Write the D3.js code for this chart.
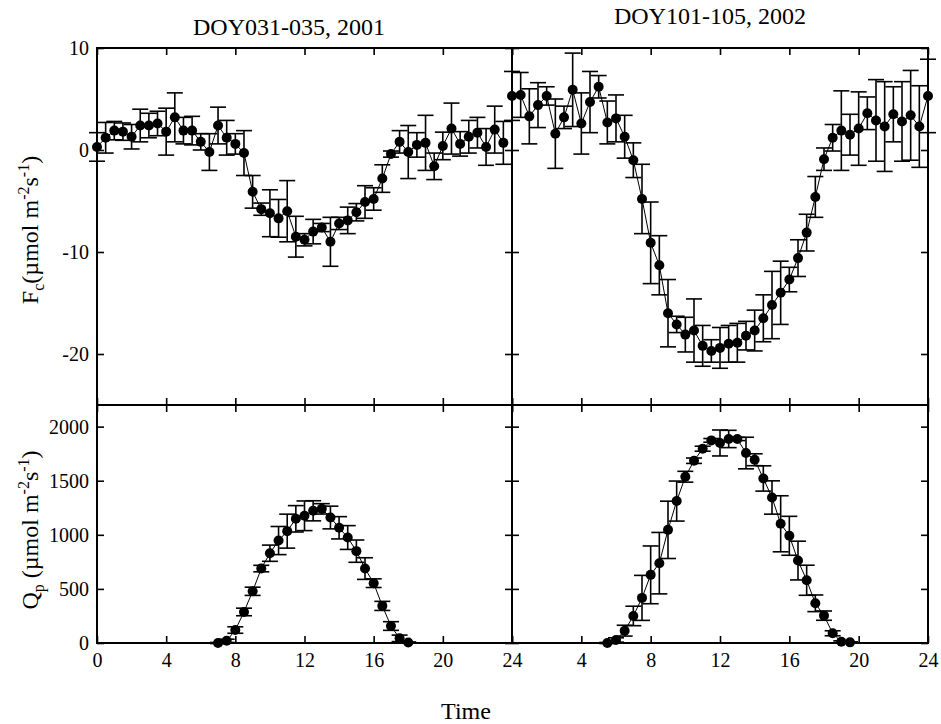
<!DOCTYPE html>
<html><head><meta charset="utf-8">
<script src="https://cdn.jsdelivr.net/npm/d3@7"></script>
<style>body{margin:0;background:#fff}svg{display:block}</style>
</head><body>
<svg id="c" width="941" height="724"></svg>
<script>
// ---------- data ----------
const titles = ["DOY031-035, 2001", "DOY101-105, 2002"];
const xTicks = [0, 4, 8, 12, 16, 20, 24];
const fcTicks = [10, 0, -10, -20];
const qpTicks = [0, 500, 1000, 1500, 2000];

const timeA = [0,0.5,1,1.5,2,2.5,3,3.5,4,4.5,5,5.5,6,6.5,7,7.5,8,8.5,9,9.5,10,10.5,11,11.5,12,12.5,13,13.5,14,14.5,15,15.5,16,16.5,17,17.5,18,18.5,19,19.5,20,20.5,21,21.5,22,22.5,23,23.5];
const fcA = [0.3,1.2,1.9,1.8,1.3,2.4,2.4,2.6,1.8,3.2,
             1.9,1.9,0.8,-0.2,2.4,1.2,0.6,-0.3,-4.1,-5.8,
             -6.2,-6.7,-6.0,-8.5,-8.8,-8.0,-7.6,-9.0,-7.2,-6.9,
             -6.1,-5.1,-4.8,-2.8,-0.4,0.8,-0.2,0.5,0.7,-1.6,
             0.4,2.1,0.6,1.3,1.7,0.3,2.0,0.7];
const fcAErr = [1.4,1.5,0.9,0.85,1.2,1.6,1.2,1.2,2.3,2.4,
                1.3,1.4,0.8,1.8,1.8,1.7,1.0,2.2,1.6,0.6,
                2.3,1.85,3.0,2.0,0.6,1.2,0.4,2.4,0.6,1.3,
                0.85,1.6,1.1,1.35,0.3,1.1,2.6,1.2,2.7,1.3,
                1.35,2.5,1.2,1.6,1.5,1.8,2.3,2.1];

const timeB = [0,0.5,1,1.5,2,2.5,3,3.5,4,4.5,5,5.5,6,6.5,7,7.5,8,8.5,9,9.5,10,10.5,11,11.5,12,12.5,13,13.5,14,14.5,15,15.5,16,16.5,17,17.5,18,18.5,19,19.5,20,20.5,21,21.5,22,22.5,23,23.5,24];
const fcB = [5.3,5.4,3.3,4.4,5.3,1.6,3.2,5.9,2.6,4.7,
             6.2,2.7,3.1,1.3,-1.0,-4.8,-9.1,-11.3,-16.0,-17.1,
             -18.1,-17.7,-19.2,-19.7,-19.4,-19.0,-18.9,-18.2,-17.7,-16.5,
             -15.2,-14.0,-12.7,-10.6,-8.1,-4.6,-0.9,1.2,1.9,1.5,
             2.1,3.6,2.9,2.3,3.5,2.8,3.4,2.3,5.3];
const fcBErr = [2.4,2.2,2.7,2.2,0.9,3.4,1.1,3.6,3.0,3.0,
                1.1,2.1,2.3,2.1,1.7,3.4,4.0,2.9,3.3,0.8,
                1.7,3.1,2.0,1.1,2.0,1.8,1.9,1.4,2.0,2.3,
                3.3,3.1,1.2,1.8,1.8,2.0,1.1,1.3,3.9,2.0,
                3.6,1.6,4.0,4.4,2.7,3.9,4.4,4.0,3.6];

const qpTimeA = [7,7.5,8,8.5,9,9.5,10,10.5,11,11.5,12,12.5,13,13.5,14,14.5,15,15.5,16,16.5,17,17.5,18];
const qpA = [0,20,120,287,478,688,830,947,1034,1148,1176,1222,1240,1160,1065,975,849,688,553,343,157,43,5];
const qpAErr = [5,15,30,35,38,30,75,130,157,122,137,93,48,105,103,110,103,100,40,42,40,30,5];

const qpTimeB = [5.5,6,6.5,7,7.5,8,8.5,9,9.5,10,10.5,11,11.5,12,12.5,13,13.5,14,14.5,15,15.5,16,16.5,17,17.5,18,18.5,19,19.5];
const qpB = [0,28,114,250,417,630,738,1046,1312,1537,1685,1796,1873,1849,1886,1886,1756,1694,1521,1345,1102,991,762,580,367,253,90,12,6];
const qpBErr = [5,20,50,90,208,267,284,265,185,50,25,23,17,120,80,15,146,55,117,154,259,180,179,139,77,43,23,8,5];

// ---------- layout ----------
const svg = d3.select("#c");
const FONT = "'Liberation Serif','Times New Roman',serif";
const L = 97, M = 512, R = 928, T = 48, MID = 405, B = 643;

const xA = d3.scaleLinear().domain([0, 24]).range([L, M]);
const xB = d3.scaleLinear().domain([0, 24]).range([M, R]);
const yF = d3.scaleLinear().domain([-25, 10]).range([MID, T]);
const yQ = d3.scaleLinear().domain([0, 2200]).range([B, MID]);

function panel(x, y, yTicks, times, vals, errs, opts) {
  const g = svg.append("g");
  const [x0, x1] = x.range();
  const [y0, y1] = y.range(); // bottom, top
  const tk = 7;
  const styleAxis = sel => {
    sel.select(".domain").remove();
    sel.selectAll(".tick line").attr("stroke", "#000").attr("stroke-width", 1.6);
    sel.selectAll("text").attr("font-family", FONT).attr("font-size", 20).attr("fill", "#000");
  };
  const bx = d3.axisBottom(x).tickValues(xTicks).tickSize(-tk).tickSizeOuter(0).tickPadding(10)
    .tickFormat(d => opts.xLabels ? (opts.skipZero && d === 0 ? "" : d) : "");
  g.append("g").attr("transform", `translate(0,${y0})`).call(bx).call(styleAxis);
  const tx = d3.axisTop(x).tickValues(xTicks).tickSize(-tk).tickSizeOuter(0).tickFormat("");
  g.append("g").attr("transform", `translate(0,${y1})`).call(tx).call(styleAxis);
  const ly = d3.axisLeft(y).tickValues(yTicks).tickSize(-tk).tickSizeOuter(0).tickPadding(8)
    .tickFormat(d => opts.yLabels ? d : "");
  g.append("g").attr("transform", `translate(${x0},0)`).call(ly).call(styleAxis);
  const ry = d3.axisRight(y).tickValues(yTicks).tickSize(-tk).tickSizeOuter(0).tickFormat("");
  g.append("g").attr("transform", `translate(${x1},0)`).call(ry).call(styleAxis);
  g.append("rect").attr("x", x0).attr("y", y1).attr("width", x1 - x0).attr("height", y0 - y1)
    .attr("fill", "none").attr("stroke", "#000").attr("stroke-width", 2);

  const data = times.map((t, i) => ({ t, v: vals[i], e: errs[i] }));
  const eb = g.append("g").attr("stroke", "#000").attr("stroke-width", 1.6);
  eb.selectAll("line.v").data(data).join("line")
    .attr("x1", d => x(d.t)).attr("x2", d => x(d.t))
    .attr("y1", d => y(d.v - d.e)).attr("y2", d => y(d.v + d.e));
  eb.selectAll("line.top").data(data).join("line").attr("class", "top")
    .attr("x1", d => x(d.t) - 8).attr("x2", d => x(d.t) + 8)
    .attr("y1", d => y(d.v + d.e)).attr("y2", d => y(d.v + d.e));
  eb.selectAll("line.bot").data(data).join("line").attr("class", "bot")
    .attr("x1", d => x(d.t) - 8).attr("x2", d => x(d.t) + 8)
    .attr("y1", d => y(d.v - d.e)).attr("y2", d => y(d.v - d.e));
  g.append("path").datum(data)
    .attr("d", d3.line().x(d => x(d.t)).y(d => y(d.v)))
    .attr("fill", "none").attr("stroke", "#000").attr("stroke-width", 1);
  g.selectAll("circle").data(data).join("circle")
    .attr("cx", d => x(d.t)).attr("cy", d => y(d.v)).attr("r", 5).attr("fill", "#000");
}

panel(xA, yF, fcTicks, timeA, fcA, fcAErr, { xLabels: false, yLabels: true });
panel(xB, yF, fcTicks, timeB, fcB, fcBErr, { xLabels: false, yLabels: false });
panel(xA, yQ, qpTicks, qpTimeA, qpA, qpAErr, { xLabels: true, yLabels: true });
panel(xB, yQ, qpTicks, qpTimeB, qpB, qpBErr, { xLabels: true, yLabels: false, skipZero: true });

// titles
svg.append("text").attr("x", 289).attr("y", 35).attr("text-anchor", "middle")
  .attr("font-family", FONT).attr("font-size", 24).text(titles[0]);
svg.append("text").attr("x", 710).attr("y", 24).attr("text-anchor", "middle")
  .attr("font-family", FONT).attr("font-size", 24).text(titles[1]);
svg.append("text").attr("x", 466).attr("y", 719).attr("text-anchor", "middle")
  .attr("font-family", FONT).attr("font-size", 24).text("Time");

// y labels
function ylabel(cx, cy, main, sub, gap) {
  const t = svg.append("text").attr("transform", `translate(${cx},${cy}) rotate(-90)`)
    .attr("text-anchor", "middle").attr("font-family", FONT).attr("font-size", 24);
  t.append("tspan").text(main);
  t.append("tspan").attr("font-size", 16).attr("dy", 6).text(sub);
  t.append("tspan").attr("dy", -6).text(gap + "(\u00b5mol m");
  t.append("tspan").attr("font-size", 16).attr("dy", -9).text("-2");
  t.append("tspan").attr("dy", 9).text("s");
  t.append("tspan").attr("font-size", 16).attr("dy", -9).text("-1");
  t.append("tspan").attr("dy", 9).text(")");
}
ylabel(38, 230, "F", "c", "");
ylabel(38, 530, "Q", "p", " ");
</script>
</body></html>
